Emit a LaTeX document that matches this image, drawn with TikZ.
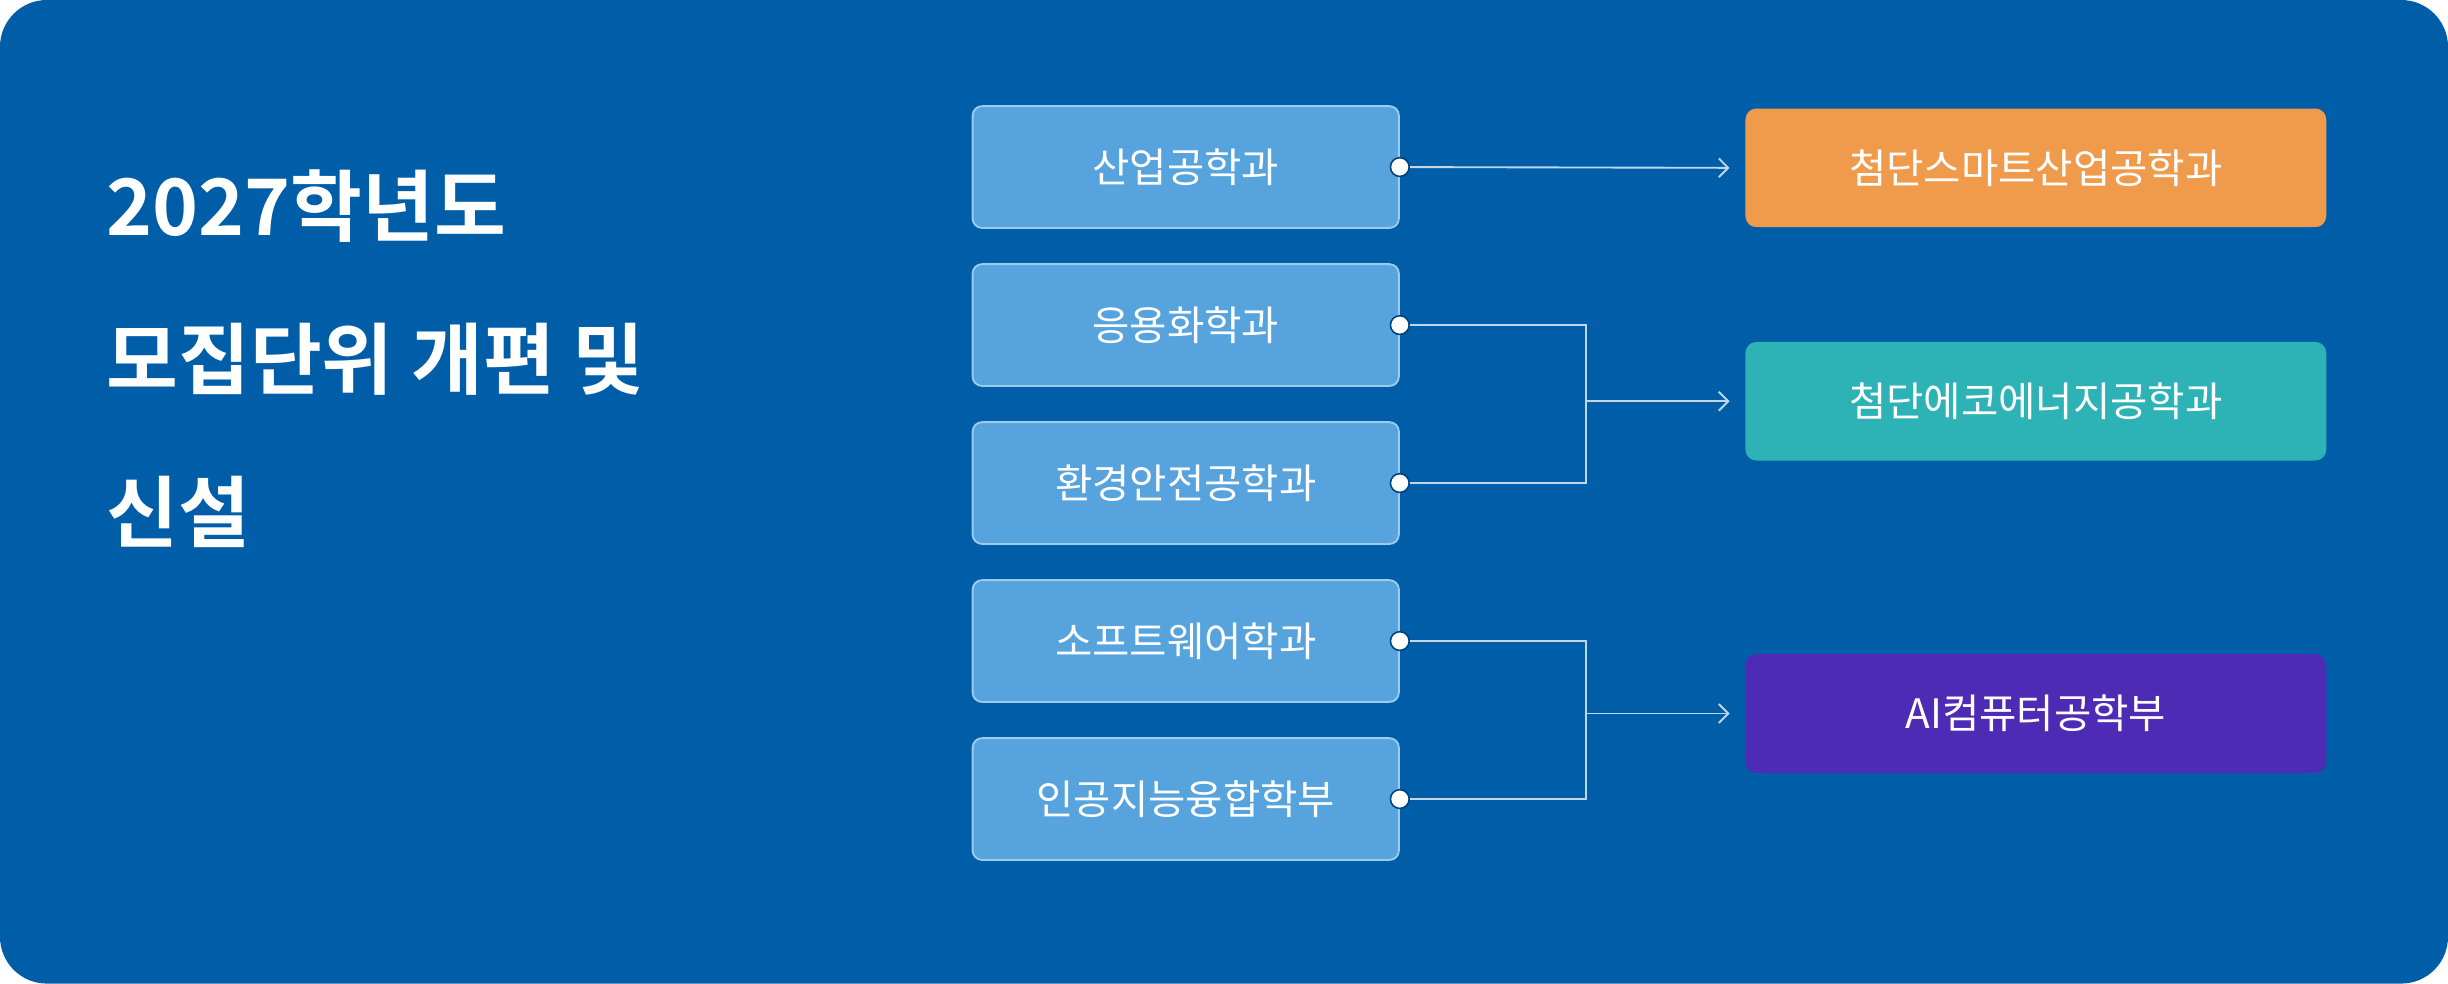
\documentclass[tikz,border=0pt]{standalone}
\usepackage{fontspec}
\setmainfont{Noto Sans CJK KR}
\newfontfamily\krbold{Noto Sans CJK KR Bold}
\usetikzlibrary{positioning,arrows.meta}
\definecolor{bgblue}{HTML}{005DA8}
\definecolor{oldbox}{HTML}{56A3DE}
\definecolor{oldedge}{HTML}{9CCBF0}
\definecolor{neworange}{HTML}{EF9B4B}
\definecolor{newteal}{HTML}{2DB3B6}
\definecolor{newpurple}{HTML}{4E2BB5}
\begin{document}
\begin{tikzpicture}[x=1pt,y=-1pt,
    old/.style={draw=oldedge,line width=1.2pt,fill=oldbox,rounded corners=6pt,minimum width=273pt,minimum height=78pt,text=white,font=\fontsize{26}{30}\selectfont,inner sep=0pt},
    new/.style={rounded corners=7pt,minimum width=372pt,minimum height=76pt,text=white,font=\fontsize{26}{30}\selectfont,inner sep=0pt},
    port/.style={circle,draw=bgblue!70!black,line width=1pt,fill=white,minimum size=12pt,inner sep=0pt},
    link/.style={draw=white!75!bgblue,line width=1.2pt},
    arr/.style={link,-{Straight Barb[length=6pt,width=12pt]}}]
  \fill[bgblue,rounded corners=30pt] (0,0) rectangle (1568,630);
  % title
  \node[anchor=west,text=white,font=\krbold\fontsize{50}{100}\selectfont,align=left,inner sep=0pt] (title) at (68,230)
    {2027학년도\\[-2pt]모집단위 개편 및\\[-2pt]신설};
  % old departments
  \node[old] (d1) at (759.5,107) {산업공학과};
  \node[old,below=22pt of d1] (d2) {응용화학과};
  \node[old,below=22pt of d2] (d3) {환경안전공학과};
  \node[old,below=22pt of d3] (d4) {소프트웨어학과};
  \node[old,below=22pt of d4] (d5) {인공지능융합학부};
  % new departments
  \node[new,fill=neworange] (n1) at (1304,107.5) {첨단스마트산업공학과};
  \node[new,fill=newteal] (n2) at (1304,257) {첨단에코에너지공학과};
  \node[new,fill=newpurple] (n3) at (1304,457) {AI컴퓨터공학부};
  % connectors
  \coordinate (j1) at (1016,257);
  \coordinate (j2) at (1016,457);
  \draw[arr] (d1.east) -- ([xshift=-10pt]n1.west);
  \draw[link] (d2.east) -| (j1) |- (d3.east);
  \draw[link] (d4.east) -| (j2) |- (d5.east);
  \draw[arr] (j1) -- ([xshift=-10pt]n2.west);
  \draw[arr] (j2) -- ([xshift=-10pt]n3.west);
  \foreach \d in {d1,d2,d3,d4,d5}
    \node[port] at (\d.east) {};
\end{tikzpicture}
\end{document}
